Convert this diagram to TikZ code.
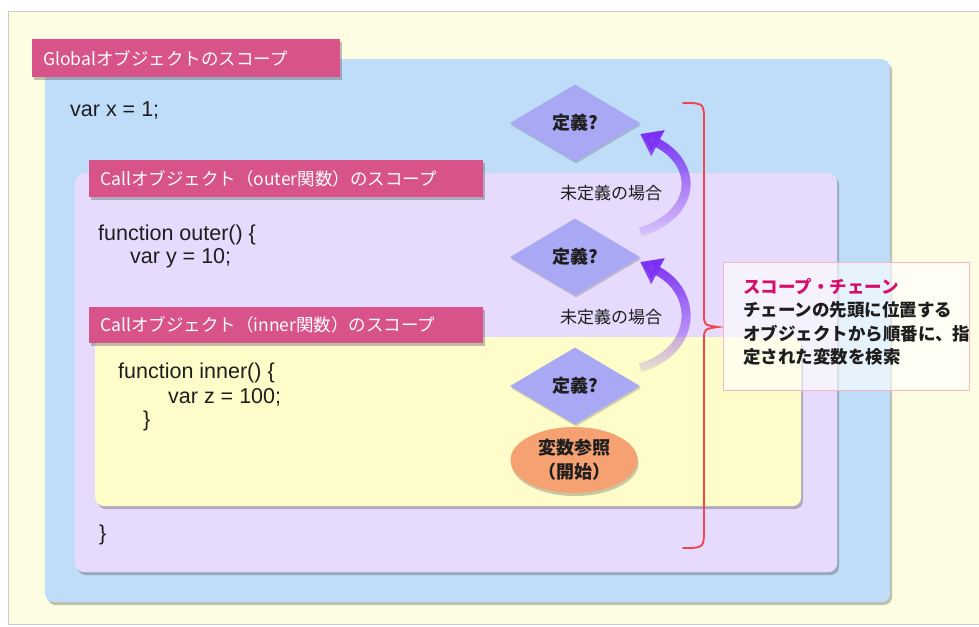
\documentclass[tikz,border=0pt]{standalone}
\usepackage{fontspec}
\setmainfont{Noto Sans CJK JP}
\newfontfamily\codefont{Liberation Sans}
\usetikzlibrary{shapes.geometric,shadows,fadings,arrows.meta,calc}
\definecolor{cream}{RGB}{253,253,228}
\definecolor{globalblue}{RGB}{191,221,249}
\definecolor{outerpurple}{RGB}{230,219,252}
\definecolor{inneryellow}{RGB}{254,253,201}
\definecolor{labelpink}{RGB}{216,83,138}
\definecolor{diamondblue}{RGB}{168,168,244}
\definecolor{startorange}{RGB}{245,161,114}
\definecolor{bracered}{RGB}{240,70,80}
\definecolor{calloutpink}{RGB}{244,184,192}
\definecolor{titlemagenta}{RGB}{212,16,106}
\definecolor{arrowpurple}{RGB}{123,46,242}
\definecolor{textdark}{RGB}{30,30,30}
\tikzfading[name=arrowfade, top color=transparent!0, bottom color=transparent!88]
\begin{document}
\begin{tikzpicture}[x=1pt,y=-1pt,
  scopebox/.style={rounded corners=9pt, anchor=north west, inner sep=0pt,
    drop shadow={shadow xshift=2pt, shadow yshift=-3pt, opacity=.35, fill=black!70}},
  scopelabel/.style={fill=labelpink, anchor=north west, inner xsep=11pt, inner ysep=0pt,
    align=left, text=white, font=\fontsize{17.5}{20}\selectfont,
    drop shadow={shadow xshift=2pt, shadow yshift=-3pt, opacity=.35, fill=black!70}},
  code/.style={anchor=west, inner sep=0pt, text=textdark, font=\codefont\fontsize{21.5}{23}\selectfont},
  decision/.style={diamond, fill=diamondblue, minimum width=130pt, minimum height=77pt, inner sep=0pt,
    text=textdark, font=\bfseries\fontsize{18}{20}\selectfont,
    drop shadow={shadow xshift=1pt, shadow yshift=-2pt, opacity=.25, fill=black!70}},
  note/.style={inner sep=0pt, text=textdark, font=\fontsize{17}{20}\selectfont},
  chainarrow/.style={line width=9pt, draw=arrowpurple, path fading=arrowfade,
    -{Triangle[length=20pt, width=28pt]}},
  brace/.style={draw=bracered, line width=1.9pt, line cap=round}
]
\useasboundingbox (0,0) rectangle (979,626);
\fill[white] (0,0) rectangle (979,626);
\filldraw[fill=cream, draw=black!20, line width=0.8pt] (8,11) rectangle (985,624);

% scope boxes
\node[scopebox, fill=globalblue, minimum width=845pt, minimum height=543pt] (global) at (45,59) {};
\node[scopelabel, text width=286pt, minimum height=38pt] (globallabel) at (32,39) {Globalオブジェクトのスコープ};
\node[code] (varx) at (70,110) {var x = 1;};

\node[scopebox, fill=outerpurple, minimum width=762pt, minimum height=399pt] (outer) at (75,173) {};
\node[scopelabel, text width=372pt, minimum height=37pt] (outerlabel) at (89,160) {Callオブジェクト（outer関数）のスコープ};
\node[code] (fouter) at (98,235) {function outer() \{};
\node[code] (vary) at (130,258) {var y = 10;};
\node[code] (closeouter) at (99,535) {\}};

\node[scopebox, fill=inneryellow, minimum width=706pt, minimum height=169pt] (inner) at (95,337) {};
\node[scopelabel, text width=372pt, minimum height=36pt] (innerlabel) at (89,307) {Callオブジェクト（inner関数）のスコープ};
\node[code] (finner) at (118,373) {function inner() \{};
\node[code] (varz) at (168,397) {var z = 100;};
\node[code] (closeinner) at (143,421) {\}};

% decisions
\node[decision] (d1) at (575,123) {定義?};
\node[decision] (d2) at (575,257) {定義?};
\node[decision] (d3) at (575,386) {定義?};
\node[ellipse, fill=startorange, minimum width=127pt, minimum height=66pt, inner sep=0pt,
  align=center, text=textdark, font=\bfseries\fontsize{18}{24}\selectfont,
  drop shadow={shadow xshift=1pt, shadow yshift=-3pt, opacity=.3, fill=black!70}] (start) at (574,460) {変数参照\\（開始）};

\node[note] (undef1) at (611,193) {未定義の場合};
\node[note] (undef2) at (611,317) {未定義の場合};

% arrows
\draw[chainarrow] ($(d2.east)+(0,-25)$) .. controls +(58,-18) and +(58,30) .. ($(d1.east)+(0,11)$);
\draw[chainarrow] ($(d3.east)+(0,-18)$) .. controls +(58,-18) and +(58,30) .. ($(d2.east)+(0,5)$);

% brace
\draw[brace] (683,103) .. controls (704,103) .. (704,122) -- (704,314)
  .. controls (704,325) .. (718,327) .. controls (704,329) .. (704,340)
  -- (704,528) .. controls (704,548) .. (683,548);

% callout
\node[anchor=north west, minimum width=246pt, minimum height=128pt, inner sep=0pt,
  fill=white, fill opacity=0.62, draw=calloutpink, draw opacity=1, line width=0.8pt] (callout) at (723,262) {};
\node[anchor=west, inner sep=0pt, align=left, text=textdark,
  font=\bfseries\fontsize{17.5}{23.5}\selectfont] (callouttext) at (743,322)
  {\textcolor{titlemagenta}{スコープ・チェーン}\\チェーンの先頭に位置する\\オブジェクトから順番に、指\\定された変数を検索};
\end{tikzpicture}
\end{document}
